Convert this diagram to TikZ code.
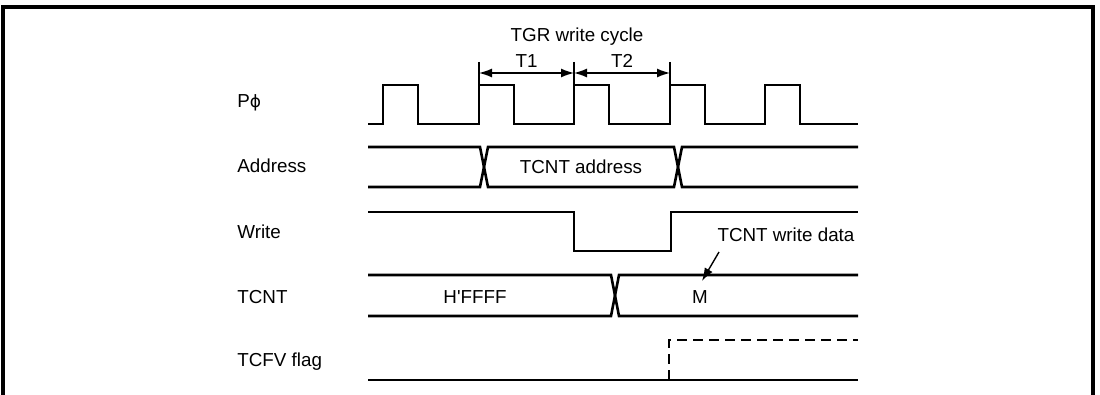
\documentclass[tikz,border=0pt]{standalone}
\usepackage{fontspec}
\usetikzlibrary{arrows.meta}
\setmainfont{Liberation Sans}[Ligatures=TeXOff]
\newfontfamily\phifont{DejaVu Sans}
\begin{document}
\begin{tikzpicture}[x=0.5pt,y=-0.5pt,font=\fontsize{9.4}{11}\selectfont]
\useasboundingbox (0,0) rectangle (1100,395);
\tikzset{sig/.style={line width=1.3pt,line join=miter},
         thin line/.style={line width=0.7pt},
         lbl/.style={anchor=west,inner sep=0pt},
         >={Latex[length=6.5pt,width=4.5pt]}}
% frame
\draw[line width=1.6pt] (3,395)--(3,7)--(1093,7)--(1093,395);
% signal names
\node[lbl] (nphi) at (237,103) {P{\phifont\fontsize{8.5}{10}\selectfont ϕ}};
\node[lbl] (naddr) at (237,166) {Address};
\node[lbl] (nwr) at (237,232) {Write};
\node[lbl] (ncnt) at (237,297) {TCNT};
\node[lbl] (nflag) at (237,362) {TCFV flag};
% clock
\draw[sig] (368,124) foreach \r in {383,479,574,670,765}{--(\r,124)--(\r,85)--(\r+35,85)--(\r+35,124)} --(858,124);
% write cycle
\coordinate (c1) at (479,73);
\coordinate (c2) at (574,73);
\coordinate (c3) at (670,73);
\foreach \c in {c1,c2,c3}
  \draw[thin line] (\c) ++(0,-11)--++(0,23);
\draw[thin line,<->] (c1)--(c2) node[midway,above=-1pt] (t1) {T1};
\draw[thin line,<->] (c2)--(c3) node[midway,above=-1pt] (t2) {T2};
\node (cyc) at (577,37) {TGR write cycle};
% address
\draw[sig] (368,147)--(480,147)--(488,187)--(674,187)--(682,147)--(858,147);
\draw[sig] (368,187)--(480,187)--(488,147)--(674,147)--(682,187)--(858,187);
\node (adr) at (581,167) {TCNT address};
% write
\draw[sig] (368,212)--(574,212)--(574,251)--(671,251)--(671,212)--(858,212);
% TCNT
\draw[sig] (368,275)--(611,275)--(619,316)--(858,316);
\draw[sig] (368,316)--(611,316)--(619,275)--(858,275);
\node (ffff) at (475,297) {H'FFFF};
\node (m) at (700,297) {M};
\node (wdata) at (786,235) {TCNT write data};
\coordinate (tip) at (702,281);
\draw[thin line,->] (719,252)--(tip);
% flag
\draw[sig] (368,380)--(858,380);
\draw[sig,dash pattern=on 5pt off 3pt] (669,380)--(669,340)--(858,340);
\end{tikzpicture}
\end{document}
